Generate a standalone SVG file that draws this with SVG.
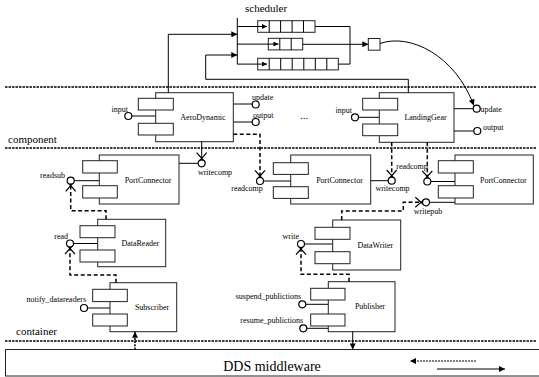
<svg xmlns="http://www.w3.org/2000/svg" xmlns:xlink="http://www.w3.org/1999/xlink" width="539" height="377" viewBox="0 0 539 377" font-family="'Liberation Serif', 'Times New Roman', serif">
<style>
.box{fill:#fff;stroke:#222;stroke-width:1}
.port{fill:#fff;stroke:#000;stroke-width:1.2}
.ln{fill:none;stroke:#000;stroke-width:1}
.x{fill:none;stroke:#000;stroke-width:1.2}
.dash{fill:none;stroke:#000;stroke-width:1.5;stroke-dasharray:4,2.5}
.sep{stroke:#000;stroke-width:1.5;stroke-dasharray:2.5,1}
text{font-family:'Liberation Serif','Times New Roman',serif;fill:#000;stroke:none}
.lbl{font-size:8px}
.big{font-size:11px}
</style>
<defs>
<marker id="ah" viewBox="0 0 10 10" refX="10" refY="5" markerWidth="7" markerHeight="6" orient="auto" markerUnits="userSpaceOnUse"><path d="M0,0 L10,5 L0,10 z" fill="#000"/></marker>
<marker id="ahs" viewBox="0 0 10 10" refX="10" refY="5" markerWidth="6" markerHeight="5" orient="auto" markerUnits="userSpaceOnUse"><path d="M0,0 L10,5 L0,10 z" fill="#000"/></marker>
<path id="xs" class="x" d="M-5,-10.7 L1.7,-3 M5,-10.7 L-1.7,-3"/>
</defs>

<g id="separators">
<line class="sep" x1="5" y1="87" x2="537" y2="87"/>
<line class="sep" x1="5" y1="148" x2="537" y2="148"/>
<line class="sep" x1="5" y1="341" x2="537" y2="341"/>
<text class="big" x="245" y="12">scheduler</text>
<text class="big" x="8" y="143">component</text>
<text class="big" x="16" y="335">container</text>
<text class="big" x="300" y="119">...</text>
</g>

<g id="scheduler">
<line class="ln" x1="237.3" y1="18" x2="237.3" y2="64.2"/>
<rect class="box" x="257.7" y="20.7" width="57.3" height="11.6"/>
<path class="ln" d="M269.2,20.7V32.3M280.6,20.7V32.3M292.1,20.7V32.3M303.5,20.7V32.3"/>
<rect class="box" x="268.3" y="38.3" width="34.4" height="11.6"/>
<path class="ln" d="M279.8,38.3V49.9M291.2,38.3V49.9"/>
<rect class="box" x="257.7" y="58.3" width="80.6" height="11.6"/>
<path class="ln" d="M269.2,58.3V69.9M280.7,58.3V69.9M292.2,58.3V69.9M303.8,58.3V69.9M315.3,58.3V69.9M326.8,58.3V69.9"/>
<rect class="box" x="368.3" y="38.5" width="11.7" height="11.7"/>
</g>

<g id="aerodynamic">
<line class="ln" x1="233.3" y1="104" x2="252.2" y2="104"/>
<line class="ln" x1="233.3" y1="122" x2="252.2" y2="122"/>
<line class="ln" x1="131.8" y1="116" x2="155.7" y2="116"/>
<rect class="box" x="155.7" y="92.7" width="77.6" height="49"/>
<rect class="box" x="138.3" y="98.3" width="35" height="11.7"/>
<rect class="box" x="138.3" y="123.3" width="35" height="11.7"/>
<text class="lbl" x="203" y="119.5" text-anchor="middle">AeroDynamic</text>
<circle class="port" cx="128.3" cy="116" r="3.5"/>
<circle class="port" cx="255.7" cy="104.5" r="3.5"/>
<circle class="port" cx="255.7" cy="122" r="3.5"/>
<text class="lbl" x="128" y="111.5" text-anchor="end">input</text>
<text class="lbl" x="252" y="100">update</text>
<text class="lbl" x="253" y="117.5">output</text>
</g>

<g id="landinggear">
<line class="ln" x1="454" y1="108.7" x2="473.2" y2="108.7"/>
<line class="ln" x1="454" y1="131" x2="473.8" y2="131"/>
<line class="ln" x1="358.5" y1="117.3" x2="379.3" y2="117.3"/>
<rect class="box" x="379.3" y="92.7" width="74.7" height="49.6"/>
<rect class="box" x="362.7" y="98.3" width="35" height="11.7"/>
<rect class="box" x="362.7" y="124" width="35" height="11.7"/>
<text class="lbl" x="425.5" y="120" text-anchor="middle">LandingGear</text>
<circle class="port" cx="355" cy="117.3" r="3.5"/>
<circle class="port" cx="476.7" cy="108.7" r="3.5"/>
<circle class="port" cx="477.3" cy="131" r="3.5"/>
<text class="lbl" x="352" y="113" text-anchor="end">input</text>
<text class="lbl" x="480.5" y="112">update</text>
<text class="lbl" x="483" y="130">output</text>
</g>

<g id="portconnector-left">
<line class="ln" x1="179" y1="163.3" x2="198.2" y2="163.3"/>
<line class="ln" x1="74.2" y1="180.7" x2="99.3" y2="180.7"/>
<rect class="box" x="99.3" y="155" width="79.7" height="49"/>
<rect class="box" x="82.7" y="160.7" width="34.6" height="12.3"/>
<rect class="box" x="82.7" y="185.7" width="34.6" height="12.3"/>
<text class="lbl" x="148" y="182.5" text-anchor="middle">PortConnector</text>
<circle class="port" cx="201.7" cy="163.3" r="3.5"/>
<circle class="port" cx="70.7" cy="180.7" r="3.5"/>
<text class="lbl" x="215" y="174.5" text-anchor="middle">writecomp</text>
<text class="lbl" x="65" y="177.5" text-anchor="end">readsub</text>
</g>

<g id="portconnector-mid">
<line class="ln" x1="263.5" y1="181" x2="290.7" y2="181"/>
<line class="ln" x1="370.7" y1="180.7" x2="388.2" y2="180.7"/>
<rect class="box" x="290.7" y="155" width="80" height="49"/>
<rect class="box" x="273.3" y="162.7" width="35" height="11.7"/>
<rect class="box" x="273.3" y="186.7" width="35" height="11.7"/>
<text class="lbl" x="339.5" y="182.5" text-anchor="middle">PortConnector</text>
<circle class="port" cx="260" cy="181" r="3.5"/>
<circle class="port" cx="391.7" cy="180.7" r="3.5"/>
<text class="lbl" x="247" y="190.5" text-anchor="middle">readcomp</text>
<text class="lbl" x="392.5" y="191" text-anchor="middle">writecomp</text>
</g>

<g id="portconnector-right">
<line class="ln" x1="430.8" y1="181.5" x2="455" y2="181.5"/>
<line class="ln" x1="429.5" y1="202.3" x2="455" y2="202.3"/>
<rect class="box" x="455" y="155" width="78.3" height="49"/>
<rect class="box" x="438.3" y="160.7" width="35" height="12.3"/>
<rect class="box" x="438.3" y="185.7" width="35" height="12.3"/>
<text class="lbl" x="503.3" y="182.5" text-anchor="middle">PortConnector</text>
<circle class="port" cx="427.3" cy="181.5" r="3.5"/>
<circle class="port" cx="426" cy="202.3" r="3.5"/>
<text class="lbl" x="412" y="168.5" text-anchor="middle">readcomp</text>
<text class="lbl" x="428" y="214" text-anchor="middle">writepub</text>
</g>

<g id="datareader">
<line class="ln" x1="73.5" y1="243.5" x2="97.7" y2="243.5"/>
<rect class="box" x="97.7" y="219.3" width="68" height="47.4"/>
<rect class="box" x="80" y="225.7" width="35" height="12"/>
<rect class="box" x="80" y="250" width="35" height="12"/>
<text class="lbl" x="140.3" y="246" text-anchor="middle">DataReader</text>
<circle class="port" cx="70" cy="243.5" r="3.5"/>
<text class="lbl" x="68" y="239" text-anchor="end">read</text>
</g>

<g id="datawriter">
<line class="ln" x1="304.5" y1="244" x2="332.7" y2="244"/>
<rect class="box" x="332.7" y="220" width="68" height="50"/>
<rect class="box" x="315" y="227.3" width="35" height="12"/>
<rect class="box" x="315" y="251.7" width="35" height="12"/>
<text class="lbl" x="375.3" y="247.5" text-anchor="middle">DataWriter</text>
<circle class="port" cx="301" cy="244" r="3.5"/>
<text class="lbl" x="299" y="239" text-anchor="end">write</text>
</g>

<g id="subscriber">
<line class="ln" x1="87.5" y1="308" x2="110" y2="308"/>
<rect class="box" x="110" y="282.7" width="66.7" height="49"/>
<rect class="box" x="92.7" y="289.3" width="34.6" height="12.3"/>
<rect class="box" x="92.7" y="314" width="34.6" height="12"/>
<text class="lbl" x="152" y="309.5" text-anchor="middle">Subscriber</text>
<circle class="port" cx="84" cy="308" r="3.5"/>
<text class="lbl" x="86" y="302" text-anchor="end">notify_datareaders</text>
</g>

<g id="publisher">
<line class="ln" x1="305.8" y1="304.3" x2="328.3" y2="304.3"/>
<line class="ln" x1="306.8" y1="328.3" x2="328.3" y2="328.3"/>
<rect class="box" x="328.3" y="281.7" width="66.7" height="50"/>
<rect class="box" x="310.7" y="288.3" width="34.3" height="11.7"/>
<rect class="box" x="310.7" y="314" width="34.3" height="12"/>
<text class="lbl" x="370" y="309" text-anchor="middle">Publisher</text>
<circle class="port" cx="302.3" cy="304.3" r="3.5"/>
<circle class="port" cx="303.3" cy="328.3" r="3.5"/>
<text class="lbl" x="301" y="299" text-anchor="end">suspend_publictions</text>
<text class="lbl" x="303" y="323" text-anchor="end">resume_publictions</text>
</g>

<g id="dds">
<rect class="box" x="5.5" y="349.5" width="540" height="26.5"/>
<text x="272" y="371" font-size="14" text-anchor="middle">DDS middleware</text>
</g>

<g id="connectors">
<path class="ln" d="M168.3,92.7V34.3H237.3" marker-end="url(#ah)"/>
<path class="ln" d="M408.3,92.7V79.3H205.7V55H237.3" marker-end="url(#ah)"/>
<path class="ln" d="M237.3,26.5H267" marker-end="url(#ahs)"/>
<path class="ln" d="M237.3,44.1H278.5" marker-end="url(#ahs)"/>
<path class="ln" d="M237.3,64.1H267" marker-end="url(#ahs)"/>
<path class="ln" d="M315,26.5H350V64.1H338.3"/>
<path class="ln" d="M302.7,44.3H368.3" marker-end="url(#ah)"/>
<path class="ln" d="M380,43.5C410,33 455,55 473.8,105.4" marker-end="url(#ah)"/>
<path class="ln" d="M201.7,141.7V159.8"/>
<use xlink:href="#xs" transform="translate(201.7,163.3)"/>
<path class="dash" d="M233.3,134.3H260V177.5"/>
<use xlink:href="#xs" transform="translate(260,181)"/>
<path class="dash" d="M391.7,142.3V177.2"/>
<use xlink:href="#xs" transform="translate(391.7,180.7)"/>
<path class="dash" d="M427.3,142.3V178"/>
<use xlink:href="#xs" transform="translate(427.3,181.5)"/>
<path class="dash" d="M106,219.3V210.7H70.7V184.2"/>
<use xlink:href="#xs" transform="translate(70.7,180.7) rotate(180)"/>
<path class="dash" d="M116,282.7V275H70V247"/>
<use xlink:href="#xs" transform="translate(70,243.5) rotate(180)"/>
<path class="dash" d="M341.7,220V211H403.3V202.3H422.5"/>
<use xlink:href="#xs" transform="translate(426,202.3) rotate(-90)"/>
<path class="dash" d="M349,281.7V274.3H301V247.5"/>
<use xlink:href="#xs" transform="translate(301,244) rotate(180)"/>
<path class="dash" d="M135,349.5V331.7" marker-end="url(#ah)" style="stroke-dasharray:2,1.2"/>
<path class="ln" d="M352.7,331.7V349.5" marker-end="url(#ah)"/>
<path class="dash" d="M476,361H410" marker-end="url(#ah)" style="stroke-dasharray:2,1;stroke-width:1"/>
<path class="ln" d="M437,369H505" marker-end="url(#ah)"/>
</g>
</svg>
